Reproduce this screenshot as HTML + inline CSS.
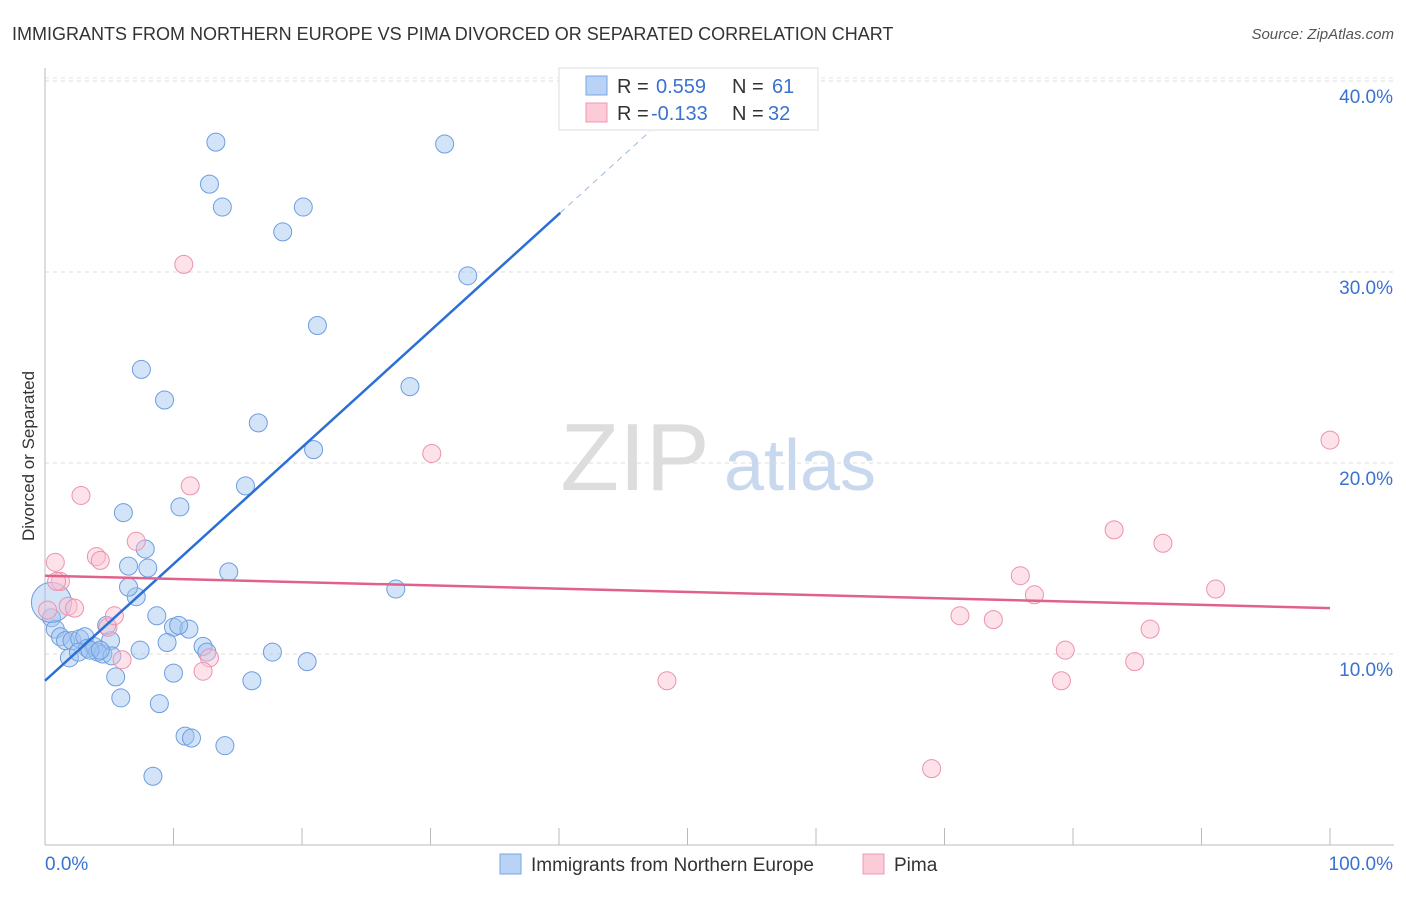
<!DOCTYPE html>
<html><head><meta charset="utf-8"><style>
body{margin:0;background:#fff;font-family:"Liberation Sans",sans-serif;}
svg text{font-family:"Liberation Sans",sans-serif;}
</style></head><body>
<svg id="chart" width="1406" height="892" xmlns="http://www.w3.org/2000/svg">
<text x="12" y="40" font-size="18" fill="#333">IMMIGRANTS FROM NORTHERN EUROPE VS PIMA DIVORCED OR SEPARATED CORRELATION CHART</text>
<text x="1394" y="39" font-size="15" fill="#555" text-anchor="end" font-style="italic">Source: ZipAtlas.com</text>
<text transform="translate(34,456) rotate(-90)" font-size="17" fill="#333" text-anchor="middle">Divorced or Separated</text>
<g>
<text x="635" y="490" font-size="96" fill="#ddd" text-anchor="middle" font-family="Liberation Serif">ZIP</text>
<text x="800" y="490" font-size="72" fill="#c8d8ee" text-anchor="middle">atlas</text>
</g>
<g id="grid"></g><g id="axes"></g><g id="pts"></g><g id="trends"></g>
<g>
<rect x="559" y="68" width="259" height="62" fill="#fff" stroke="#ddd"/>
<rect x="586" y="76" width="21" height="19" fill="#b8d3f5" stroke="#7aa7e0"/>
<rect x="586" y="103" width="21" height="19" fill="#fbcbd8" stroke="#ee9ab2"/>
<text x="617" y="93" font-size="20" fill="#333">R = </text><text x="656" y="93" font-size="20" fill="#3a72d0">0.559</text>
<text x="732" y="93" font-size="20" fill="#333">N = </text><text x="772" y="93" font-size="20" fill="#3a72d0">61</text>
<text x="617" y="120" font-size="20" fill="#333">R = </text><text x="651" y="120" font-size="20" fill="#3a72d0">-0.133</text>
<text x="732" y="120" font-size="20" fill="#333">N = </text><text x="768" y="120" font-size="20" fill="#3a72d0">32</text>
</g>
<g>
<rect x="500" y="854" width="21" height="20" fill="#b8d3f5" stroke="#7aa7e0"/>
<text x="531" y="871" font-size="19" fill="#333">Immigrants from Northern Europe</text>
<rect x="863" y="854" width="21" height="20" fill="#fbcbd8" stroke="#ee9ab2"/>
<text x="894" y="871" font-size="19" fill="#333">Pima</text>
</g>
</svg>
<script>
const blueX=[13.3,31.1,12.8,13.8,20.1,18.5,32.9,21.2,7.5,28.4,9.3,16.6,20.9,15.6,10.5,6.1,7.8,6.5,8.0,14.3,27.3,7.1,6.5,8.7,10.0,11.2,10.4,9.5,12.3,12.6,17.7,20.4,7.4,10.0,5.5,16.1,5.9,8.9,10.9,11.4,14.0,8.4,0.5,0.8,1.2,1.6,2.1,2.7,3.1,3.3,3.8,4.1,4.5,5.1,4.8,5.2,1.9,2.6,3.5,4.3,0.5];
const blueY=[36.8,36.7,34.6,33.4,33.4,32.1,29.8,27.2,24.9,24.0,23.3,22.1,20.7,18.8,17.7,17.4,15.5,14.6,14.5,14.3,13.4,13.0,13.5,12.0,11.4,11.3,11.5,10.6,10.4,10.1,10.1,9.6,10.2,9.0,8.8,8.6,7.7,7.4,5.7,5.6,5.2,3.6,11.9,11.3,10.9,10.7,10.7,10.8,10.9,10.3,10.4,10.1,10.0,10.7,11.5,9.9,9.8,10.1,10.2,10.2,12.7];
const pinkX=[10.8,30.1,11.3,2.8,7.1,0.8,4.0,4.3,1.2,1.8,2.3,4.9,5.4,6.0,12.8,12.3,48.4,69.0,100,83.2,87.0,75.9,77.0,91.1,71.2,73.8,86.0,79.4,84.8,79.1,0.2,0.9];
const pinkY=[30.4,20.5,18.8,18.3,15.9,14.8,15.1,14.9,13.8,12.5,12.4,11.4,12.0,9.7,9.8,9.1,8.6,4.0,21.2,16.5,15.8,14.1,13.1,13.4,12.0,11.8,11.3,10.2,9.6,8.6,12.3,13.8];
const yTicks=[10,20,30,40];
const yTickLabels=["10.0%","20.0%","30.0%","40.0%"];
const xTicks=[0,10,20,30,40,50,60,70,80,90,100];
const blueTrend=[8.6,0.611];
const pinkTrend=[14.1,-0.017];
const NS="http://www.w3.org/2000/svg";
const sx=v=>45+v*12.85, sy=v=>845-v*19.1;
function mk(t,a,p){const e=document.createElementNS(NS,t);for(const k in a)e.setAttribute(k,a[k]);document.getElementById(p).appendChild(e);return e;}
yTicks.forEach((t,i)=>{
 const g=mk('line',{x1:45,x2:1394,y1:sy(t),y2:sy(t),stroke:'#ddd','stroke-dasharray':'4,4'},'grid');
 
 
 const l=mk('text',{x:1393,y:sy(t)+22,'font-size':19,fill:'#3a72d0','text-anchor':'end'},'grid');
 l.textContent=yTickLabels[i];
 
 
});
const topLine=mk('line',{x1:45,x2:1394,y1:78,y2:78,stroke:'#e4e4e4','stroke-dasharray':'4,4'},'grid');


const ax=mk('line',{x1:45,x2:45,y1:68,y2:845,stroke:'#bbb'},'axes');


const bx=mk('line',{x1:45,x2:1394,y1:845,y2:845,stroke:'#bbb'},'axes');


xTicks.forEach(t=>{const e=mk('line',{x1:sx(t),x2:sx(t),y1:828,y2:845,stroke:'#bbb'},'axes');
 
 });
const x0=mk('text',{x:45,y:870,'font-size':19,fill:'#3a72d0'},'axes');x0.textContent='0.0%';


const x1=mk('text',{x:1393,y:870,'font-size':19,fill:'#3a72d0','text-anchor':'end'},'axes');x1.textContent='100.0%';


blueX.forEach((x,i)=>{const big=i===blueX.length-1;
 const c=mk('circle',{cx:sx(x),cy:sy(blueY[i]),r:big?20:9,fill:'rgba(160,196,240,0.45)',stroke:'#6d9de0','stroke-width':1},'pts');
 
 });
pinkX.forEach((x,i)=>{const c=mk('circle',{cx:sx(x),cy:sy(pinkY[i]),r:9,fill:'rgba(250,190,208,0.45)',stroke:'#ec92ad','stroke-width':1},'pts');
 
 });
const bt=mk('line',{x1:sx(0),y1:sy(blueTrend[0]),x2:sx(40.1),y2:sy(blueTrend[0]+blueTrend[1]*40.1),stroke:'#2a6fd6','stroke-width':2.5},'trends');


const bd=mk('line',{x1:sx(40.1),y1:sy(blueTrend[0]+blueTrend[1]*40.1),x2:sx(47.1),y2:sy(blueTrend[0]+blueTrend[1]*47.1),stroke:'#9bb8e0','stroke-width':1,'stroke-dasharray':'6,5'},'trends');


const pt=mk('line',{x1:sx(0),y1:sy(pinkTrend[0]),x2:sx(100),y2:sy(pinkTrend[0]+pinkTrend[1]*100),stroke:'#e0628c','stroke-width':2.5},'trends');


</script>
</body></html>
